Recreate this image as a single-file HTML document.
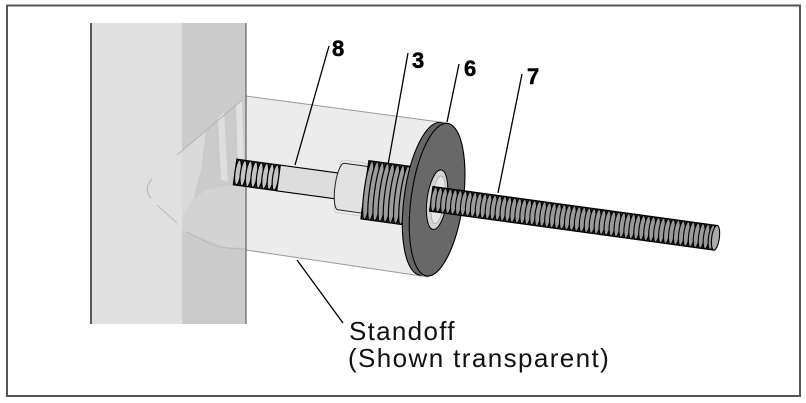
<!DOCTYPE html>
<html><head><meta charset="utf-8"><style>
html,body{margin:0;padding:0;background:#fff;}
svg{display:block;}
text{font-family:"Liberation Sans",sans-serif;}
</style></head><body>
<svg width="806" height="403" viewBox="0 0 806 403" xmlns="http://www.w3.org/2000/svg">
<rect width="806" height="403" fill="#fff"/>
<rect x="7" y="5.5" width="793" height="390.5" fill="none" stroke="#555" stroke-width="2"/>

<!-- wall -->
<rect x="91" y="23" width="91" height="301" fill="#e0e0e0"/>
<rect x="182" y="23" width="64" height="301" fill="#cbcbcb"/>
<polygon points="182,151 206,130 201,170 193,200 186,214 182,217" fill="#dadada"/>
<polygon points="218,118 224,112 228,182 221,180" fill="#dedede"/>
<polygon points="236,104 242,100 244,168 238,172" fill="#e1e1e1"/>
<polygon points="182,217 192,200 206,190 226,186 246,186 246,248 226,247 202,238 182,230" fill="#d3d3d3"/>
<line x1="242" y1="100" x2="177" y2="155" stroke="#b3b3b3" stroke-width="1"/>
<path d="M152,179 Q143,189 151,198" fill="none" stroke="#b3b3b3" stroke-width="1"/>
<path d="M157,205 L177,223 M187,232 L210,244 Q222,249 248,249" fill="none" stroke="#bababa" stroke-width="1"/>
<line x1="91" y1="23" x2="91" y2="324" stroke="#333" stroke-width="1.6"/>

<!-- standoff (transparent) -->
<polygon points="246,96 447,123 460,200 428,277 246,250" fill="#ececec"/>
<line x1="246" y1="96" x2="447" y2="123" stroke="#9a9a9a" stroke-width="1"/>
<line x1="246" y1="250" x2="428" y2="277" stroke="#9a9a9a" stroke-width="1"/>
<line x1="246" y1="23" x2="246" y2="324" stroke="#555" stroke-width="1.1"/>

<!-- rod assembly in local coords -->
<g transform="translate(235,172) rotate(7.8)">
  <!-- left threaded end -->
  <rect x="0" y="-13" width="44" height="26" fill="#222" stroke="#000" stroke-width="1"/>
  <g fill="#c4c4c4" stroke="#000" stroke-width="1.2">
    <ellipse cx="3" cy="0" rx="3" ry="12.5"/>
    <ellipse cx="8.5" cy="0" rx="3" ry="12.8"/>
    <ellipse cx="14" cy="0" rx="3" ry="12.8"/>
    <ellipse cx="19.5" cy="0" rx="3" ry="12.8"/>
    <ellipse cx="25" cy="0" rx="3" ry="12.8"/>
    <ellipse cx="30.5" cy="0" rx="3" ry="12.8"/>
    <ellipse cx="36" cy="0" rx="3" ry="12.8"/>
    <ellipse cx="41" cy="0" rx="3" ry="12.8"/>
  </g>
  <!-- shank -->
  <rect x="44" y="-13" width="64" height="26" fill="#dddddd" stroke="#000" stroke-width="1.1"/>
  <!-- ghost outline around collar -->
  <rect x="103" y="-26.5" width="32" height="53" rx="4" fill="none" stroke="#c4c4c4" stroke-width="0.8"/>
  <!-- collar -->
  <path d="M131,-23.5 L107,-23.5 A6 23.5 0 0 0 107,23.5 L131,23.5 Z" fill="#e2e2e2" stroke="#222" stroke-width="1"/>
  <!-- coupling thread (3) -->
  <rect x="131" y="-29.5" width="48" height="59" fill="#222" stroke="#000" stroke-width="1"/>
  <g fill="#9c9c9c" stroke="#000" stroke-width="1.2">
    <ellipse cx="134.5" cy="0" rx="4" ry="29.3"/>
    <ellipse cx="139.7" cy="0" rx="4" ry="29.3"/>
    <ellipse cx="144.9" cy="0" rx="4" ry="29.3"/>
    <ellipse cx="150.1" cy="0" rx="4" ry="29.3"/>
    <ellipse cx="155.3" cy="0" rx="4" ry="29.3"/>
    <ellipse cx="160.5" cy="0" rx="4" ry="29.3"/>
    <ellipse cx="165.7" cy="0" rx="4" ry="29.3"/>
    <ellipse cx="170.9" cy="0" rx="4" ry="29.3"/>
    <ellipse cx="176" cy="0" rx="4" ry="29.3"/>
  </g>
  <!-- washer (6) -->
  <ellipse cx="197" cy="0" rx="26" ry="77" fill="#666" stroke="#000" stroke-width="1.1"/>
  <rect x="197" y="-77" width="7" height="154" fill="#666"/>
  <ellipse cx="204" cy="0" rx="26" ry="77" fill="#686868" stroke="#000" stroke-width="1.1"/>
  <!-- hole -->
  <ellipse cx="204" cy="0" rx="10" ry="30" fill="#d4d4d4" stroke="#000" stroke-width="1"/>
  <ellipse cx="205" cy="0" rx="6.5" ry="24" fill="#e6e6e6" stroke="#a8a8a8" stroke-width="0.8"/>
  <!-- rod 7 -->
  <rect x="198" y="-12.5" width="287" height="25" fill="#222" stroke="#000" stroke-width="1"/>
  <g fill="#9a9a9a" stroke="#000" stroke-width="1.1">
    <ellipse cx="201" cy="0" rx="3" ry="12.3"/><ellipse cx="206" cy="0" rx="3" ry="12.3"/>
    <ellipse cx="211" cy="0" rx="3" ry="12.3"/><ellipse cx="216" cy="0" rx="3" ry="12.3"/>
    <ellipse cx="221" cy="0" rx="3" ry="12.3"/><ellipse cx="226" cy="0" rx="3" ry="12.3"/>
    <ellipse cx="231" cy="0" rx="3" ry="12.3"/><ellipse cx="236" cy="0" rx="3" ry="12.3"/>
    <ellipse cx="241" cy="0" rx="3" ry="12.3"/><ellipse cx="246" cy="0" rx="3" ry="12.3"/>
    <ellipse cx="251" cy="0" rx="3" ry="12.3"/><ellipse cx="256" cy="0" rx="3" ry="12.3"/>
    <ellipse cx="261" cy="0" rx="3" ry="12.3"/><ellipse cx="266" cy="0" rx="3" ry="12.3"/>
    <ellipse cx="271" cy="0" rx="3" ry="12.3"/><ellipse cx="276" cy="0" rx="3" ry="12.3"/>
    <ellipse cx="281" cy="0" rx="3" ry="12.3"/><ellipse cx="286" cy="0" rx="3" ry="12.3"/>
    <ellipse cx="291" cy="0" rx="3" ry="12.3"/><ellipse cx="296" cy="0" rx="3" ry="12.3"/>
    <ellipse cx="301" cy="0" rx="3" ry="12.3"/><ellipse cx="306" cy="0" rx="3" ry="12.3"/>
    <ellipse cx="311" cy="0" rx="3" ry="12.3"/><ellipse cx="316" cy="0" rx="3" ry="12.3"/>
    <ellipse cx="321" cy="0" rx="3" ry="12.3"/><ellipse cx="326" cy="0" rx="3" ry="12.3"/>
    <ellipse cx="331" cy="0" rx="3" ry="12.3"/><ellipse cx="336" cy="0" rx="3" ry="12.3"/>
    <ellipse cx="341" cy="0" rx="3" ry="12.3"/><ellipse cx="346" cy="0" rx="3" ry="12.3"/>
    <ellipse cx="351" cy="0" rx="3" ry="12.3"/><ellipse cx="356" cy="0" rx="3" ry="12.3"/>
    <ellipse cx="361" cy="0" rx="3" ry="12.3"/><ellipse cx="366" cy="0" rx="3" ry="12.3"/>
    <ellipse cx="371" cy="0" rx="3" ry="12.3"/><ellipse cx="376" cy="0" rx="3" ry="12.3"/>
    <ellipse cx="381" cy="0" rx="3" ry="12.3"/><ellipse cx="386" cy="0" rx="3" ry="12.3"/>
    <ellipse cx="391" cy="0" rx="3" ry="12.3"/><ellipse cx="396" cy="0" rx="3" ry="12.3"/>
    <ellipse cx="401" cy="0" rx="3" ry="12.3"/><ellipse cx="406" cy="0" rx="3" ry="12.3"/>
    <ellipse cx="411" cy="0" rx="3" ry="12.3"/><ellipse cx="416" cy="0" rx="3" ry="12.3"/>
    <ellipse cx="421" cy="0" rx="3" ry="12.3"/><ellipse cx="426" cy="0" rx="3" ry="12.3"/>
    <ellipse cx="431" cy="0" rx="3" ry="12.3"/><ellipse cx="436" cy="0" rx="3" ry="12.3"/>
    <ellipse cx="441" cy="0" rx="3" ry="12.3"/><ellipse cx="446" cy="0" rx="3" ry="12.3"/>
    <ellipse cx="451" cy="0" rx="3" ry="12.3"/><ellipse cx="456" cy="0" rx="3" ry="12.3"/>
    <ellipse cx="461" cy="0" rx="3" ry="12.3"/><ellipse cx="466" cy="0" rx="3" ry="12.3"/>
    <ellipse cx="471" cy="0" rx="3" ry="12.3"/><ellipse cx="476" cy="0" rx="3" ry="12.3"/>
    <ellipse cx="481" cy="0" rx="3" ry="12.3"/>
  </g>
  <ellipse cx="485" cy="0" rx="3.8" ry="12.5" fill="#a9a9a9" stroke="#000" stroke-width="1.1"/>
</g>

<!-- leaders -->
<g stroke="#000" stroke-width="1.3" fill="none">
  <line x1="295" y1="165" x2="329" y2="46"/>
  <line x1="388" y1="165" x2="408" y2="53"/>
  <line x1="447" y1="122" x2="459" y2="64"/>
  <line x1="498" y1="193" x2="522" y2="74"/>
  <line x1="297" y1="260" x2="343" y2="323"/>
</g>
<g font-weight="bold" font-size="22" fill="#000" stroke="#000" stroke-width="0.5">
  <text x="332" y="56">8</text>
  <text x="412" y="68">3</text>
  <text x="464" y="76">6</text>
  <text x="527" y="84">7</text>
</g>
<text x="349" y="340" font-size="26" letter-spacing="1.3" fill="#111">Standoff</text>
<text x="348" y="367" font-size="26" letter-spacing="1.4" fill="#111">(Shown transparent)</text>
</svg>
</body></html>
